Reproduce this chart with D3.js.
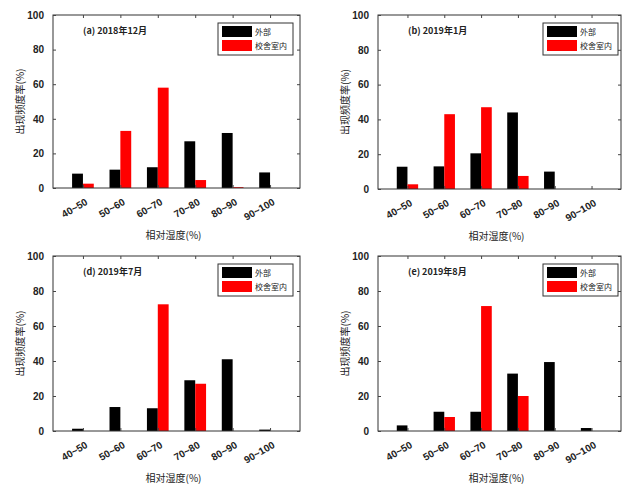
<!DOCTYPE html>
<html>
<head>
<meta charset="utf-8">
<script src="https://cdn.jsdelivr.net/npm/d3@7"></script>
<style>
  body { margin: 0; background: #fff; }
  text { font-family: "Liberation Sans", Arial, "Noto Sans CJK SC", sans-serif; fill: #222; }
  .cjk { font-family: "Noto Sans CJK SC", sans-serif; }
</style>
</head>
<body>
<div id="chart"></div>
<script>
// humidity bins
const categories = ["40~50", "50~60", "60~70", "70~80", "80~90", "90~100"];
const seriesNames = ["外部", "校舍室内"];
const yTicks = [0, 20, 40, 60, 80, 100];

// frequency (%) per bin
const outdoorDec = [8.3, 10.6, 12, 27, 31.8, 9];
const indoorDec = [2.5, 33, 58, 4.6, 0.5, 0];
const outdoorJan = [12.8, 13, 20.5, 44, 10, 0];
const indoorJan = [2.7, 43, 47, 7.5, 0, 0];
const outdoorJul = [1.3, 13.7, 13, 29, 41, 0.8];
const indoorJul = [0, 0, 72.4, 27, 0, 0];
const outdoorAug = [3.2, 11, 11, 32.8, 39.4, 1.7];
const indoorAug = [0, 8, 71.4, 20, 0, 0];

const titles = ["(a) 2018年12月", "(b) 2019年1月", "(d) 2019年7月", "(e) 2019年8月"];

const panels = [
    {title: titles[0], outdoor: outdoorDec, indoor: indoorDec, left: 53, top: 15, right: 300, bottom: 188, legendGap: 7},
    {title: titles[1], outdoor: outdoorJan, indoor: indoorJan, left: 378, top: 15, right: 621, bottom: 189, legendGap: 3},
    {title: titles[2], outdoor: outdoorJul, indoor: indoorJul, left: 53, top: 256, right: 300, bottom: 431, legendGap: 7},
    {title: titles[3], outdoor: outdoorAug, indoor: indoorAug, left: 378, top: 256, right: 621, bottom: 431, legendGap: 3}
];

const colors = ["#000000", "#ff0000"];
const barW = 0.29; // in category units

const svg = d3.select("#chart").append("svg")
    .attr("width", 624)
    .attr("height", 487);

panels.forEach((p) => drawPanel(p));

function drawPanel(p) {
    const g = svg.append("g");
    const idx = categories.map((d, i) => i);

    const x = d3.scaleLinear().domain([-0.8, 5.8]).range([p.left, p.right]);
    const y = d3.scaleLinear().domain([0, 100]).range([p.bottom, p.top]);

    // bars
    const series = [p.outdoor, p.indoor];
    series.forEach((vals, s) => {
        g.append("g").selectAll("rect")
            .data(vals)
            .join("rect")
            .attr("x", (d, i) => s === 0 ? x(i - barW) : x(i))
            .attr("width", x(barW) - x(0))
            .attr("y", (d) => y(d))
            .attr("height", (d) => y(0) - y(d))
            .attr("fill", colors[s]);
    });

    // frame
    g.append("rect")
        .attr("x", p.left).attr("y", p.top)
        .attr("width", p.right - p.left).attr("height", p.bottom - p.top)
        .attr("fill", "none").attr("stroke", "#333").attr("stroke-width", 1);

    // left axis, ticks inward
    const yAxis = g.append("g")
        .attr("transform", "translate(" + p.left + ",0)")
        .call(d3.axisLeft(y).tickValues(yTicks).tickSize(-3).tickPadding(9));
    yAxis.select(".domain").remove();
    yAxis.selectAll("line").attr("stroke", "#444");
    yAxis.selectAll("text").attr("font-size", 10).attr("font-weight", "bold").attr("fill", "#333");

    // mirrored ticks on the right
    const yRight = g.append("g")
        .attr("transform", "translate(" + p.right + ",0)")
        .call(d3.axisRight(y).tickValues(yTicks).tickSize(-3).tickFormat(""));
    yRight.select(".domain").remove();
    yRight.selectAll("line").attr("stroke", "#444");

    // bottom axis
    const xAxis = g.append("g")
        .attr("transform", "translate(0," + p.bottom + ")")
        .call(d3.axisBottom(x).tickValues(idx).tickSize(-3).tickFormat((i) => categories[i]));
    xAxis.select(".domain").remove();
    xAxis.selectAll("line").attr("stroke", "#444");
    xAxis.selectAll("text")
        .attr("font-size", 10)
        .attr("font-weight", "bold")
        .attr("fill", "#333")
        .attr("text-anchor", "end")
        .attr("dy", 0)
        .attr("y", 0)
        .attr("transform", "translate(5,16) rotate(-30)");

    // mirrored ticks on top
    const xTop = g.append("g")
        .attr("transform", "translate(0," + p.top + ")")
        .call(d3.axisTop(x).tickValues(idx).tickSize(-3).tickFormat(""));
    xTop.select(".domain").remove();
    xTop.selectAll("line").attr("stroke", "#444");

    // axis titles
    g.append("text")
        .attr("class", "cjk")
        .attr("x", (p.left + p.right) / 2 - 3)
        .attr("y", p.bottom + 51)
        .attr("text-anchor", "middle")
        .attr("font-size", 10)
        .attr("fill", "#333")
        .text("相对湿度(%)");

    g.append("text")
        .attr("class", "cjk")
        .attr("transform", "translate(" + (p.left - 29) + "," + ((p.top + p.bottom) / 2) + ") rotate(-90)")
        .attr("text-anchor", "middle")
        .attr("font-size", 10)
        .attr("fill", "#333")
        .text("出现频度率(%)");

    // panel title
    g.append("text")
        .attr("class", "cjk")
        .attr("x", p.left + 30)
        .attr("y", p.top + 19)
        .attr("font-size", 9)
        .attr("font-weight", "bold")
        .attr("fill", "#333")
        .text(p.title);

    // legend
    const lx = p.right - p.legendGap - 75;
    const ly = p.top + 8;
    const leg = g.append("g");
    leg.append("rect")
        .attr("x", lx).attr("y", ly)
        .attr("width", 75).attr("height", 32)
        .attr("fill", "#fff").attr("stroke", "#333").attr("stroke-width", 1);
    seriesNames.forEach((name, s) => {
        leg.append("rect")
            .attr("x", lx + 4).attr("y", ly + 3 + s * 14)
            .attr("width", 30).attr("height", 11)
            .attr("fill", colors[s]);
        leg.append("text")
            .attr("class", "cjk")
            .attr("x", lx + 37).attr("y", ly + 12 + s * 14)
            .attr("font-size", 8)
            .attr("fill", "#333")
            .text(name);
    });
}
</script>
</body>
</html>
